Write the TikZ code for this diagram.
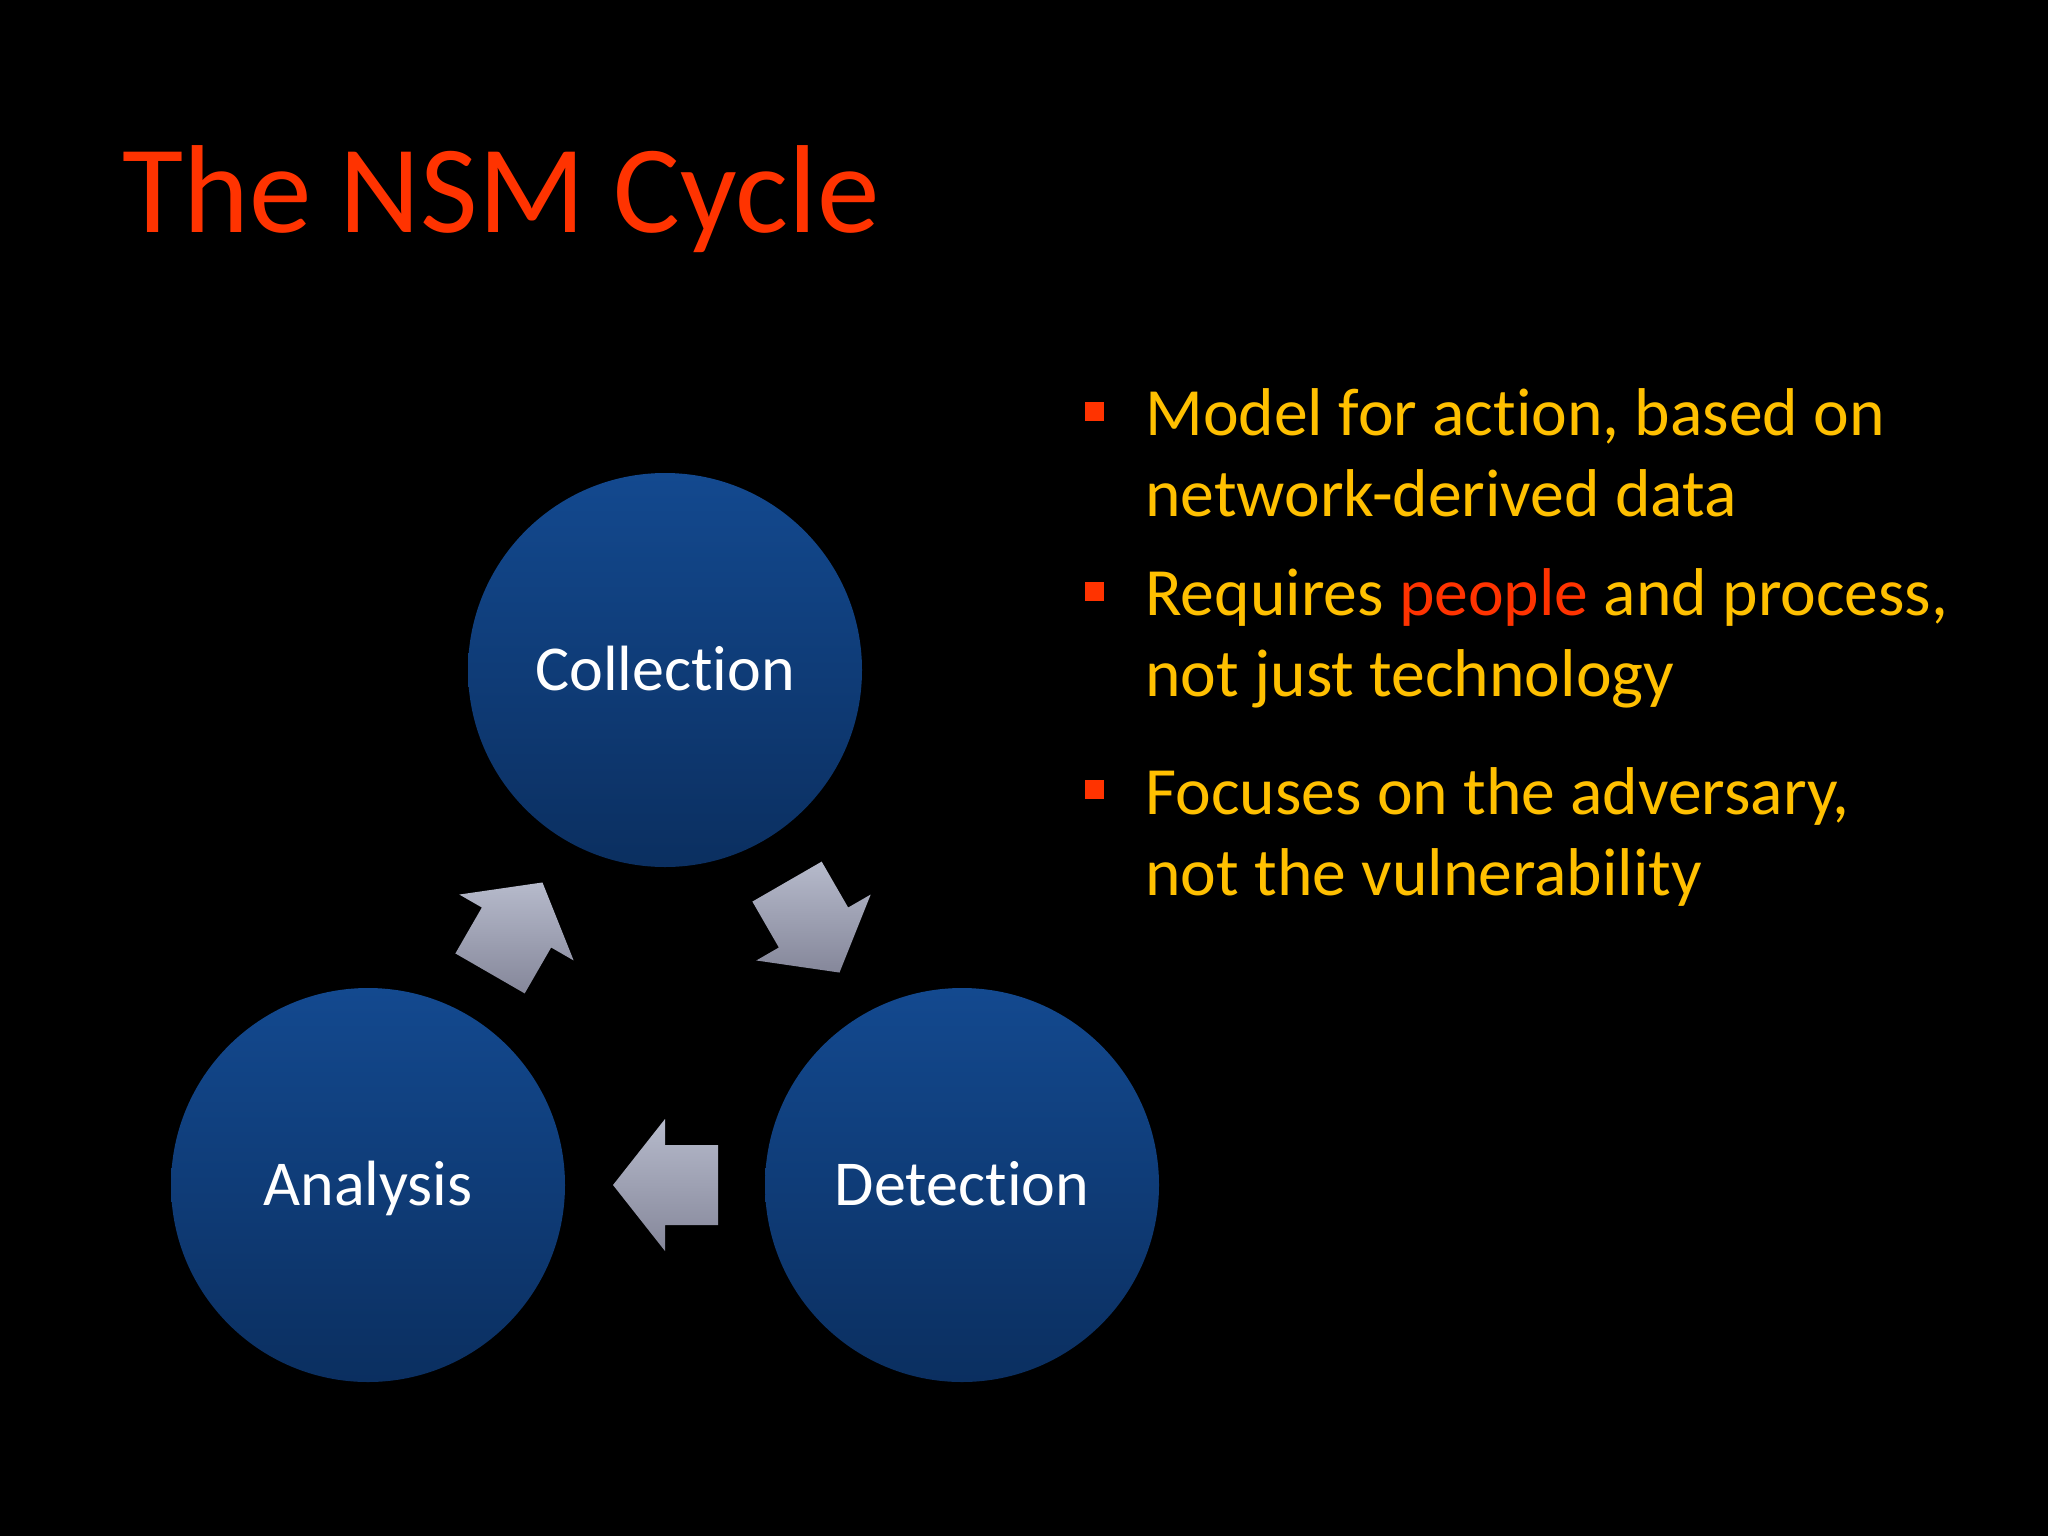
\documentclass[tikz,border=0pt]{standalone}
\usepackage{fontspec}
\setmainfont{Carlito}[RawFeature={-liga;-clig;-calt;-dlig}]
\usetikzlibrary{calc}
\definecolor{titlered}{HTML}{FF3300}
\definecolor{gold}{HTML}{FFC000}
\definecolor{circtop}{HTML}{13498F}
\definecolor{circbot}{HTML}{0B2F60}
\definecolor{arrtop}{HTML}{B6BACB}
\definecolor{arrbot}{HTML}{85879A}
\tikzset{
  phase/.style={circle, minimum size=197pt, inner sep=0pt, top color=circtop, bottom color=circbot,
    draw=none, text=white, font=\fontsize{32}{38}\selectfont, text height=20.6pt, text depth=0pt},
  bline/.style={anchor=base west, inner sep=0pt, text=gold, font=\fontsize{33.8}{40}\selectfont},
  bsq/.style={fill=titlered, draw=none, minimum size=9.5pt, inner sep=0pt},
  arrowshade/.style={top color=arrtop, bottom color=arrbot, draw=none}
}
\newcommand\cyclearrow[3]{%
  \coordinate (#3m) at ($(#1)!0.5!(#2)$);
  \coordinate (#3t) at ($(#3m)!-26.5pt!(#2)$);
  \shade[arrowshade] ($(#3m)!26pt!(#2)$) -- ($(#3m)!33pt!90:(#2)$) -- ($(#3m)!20pt!90:(#2)$)
    -- ($(#3t)!20pt!90:(#2)$) -- ($(#3t)!20pt!-90:(#2)$) -- ($(#3m)!20pt!-90:(#2)$)
    -- ($(#3m)!33pt!-90:(#2)$) -- cycle;
}
\begin{document}
\begin{tikzpicture}[x=0.5pt,y=-0.5pt]
\useasboundingbox (0,0) rectangle (2048,1536);
\fill[black] (0,0) rectangle (2048,1536);

\node[anchor=base west, inner sep=0pt, text=titlered, font=\fontsize{62.6}{75}\selectfont] (title) at (122,232) {The NSM Cycle};

\node[phase] (col) at (665,670) {Collection};
\node[phase] (ana) at (368,1185) {Analysis};
\node[phase] (det) at (962,1185) {Detection};

\cyclearrow{col}{det}{a1}
\cyclearrow{det}{ana}{a2}
\cyclearrow{ana}{col}{a3}

\node[bsq] (s1) at (1094.5,411) {};
\node[bline] (l1a) at (1145,435) {Model for action, based on};
\node[bline] (l1b) at (1145,516) {network-derived data};
\node[bsq] (s2) at (1094.5,591) {};
\node[bline] (l2a) at (1145,615) {Requires {\color{titlered}people} and process,};
\node[bline] (l2b) at (1145,696) {not just technology};
\node[bsq] (s3) at (1094.5,789) {};
\node[bline] (l3a) at (1145,814) {Focuses on the adversary,};
\node[bline] (l3b) at (1145,895) {not the vulnerability};
\end{tikzpicture}
\end{document}
